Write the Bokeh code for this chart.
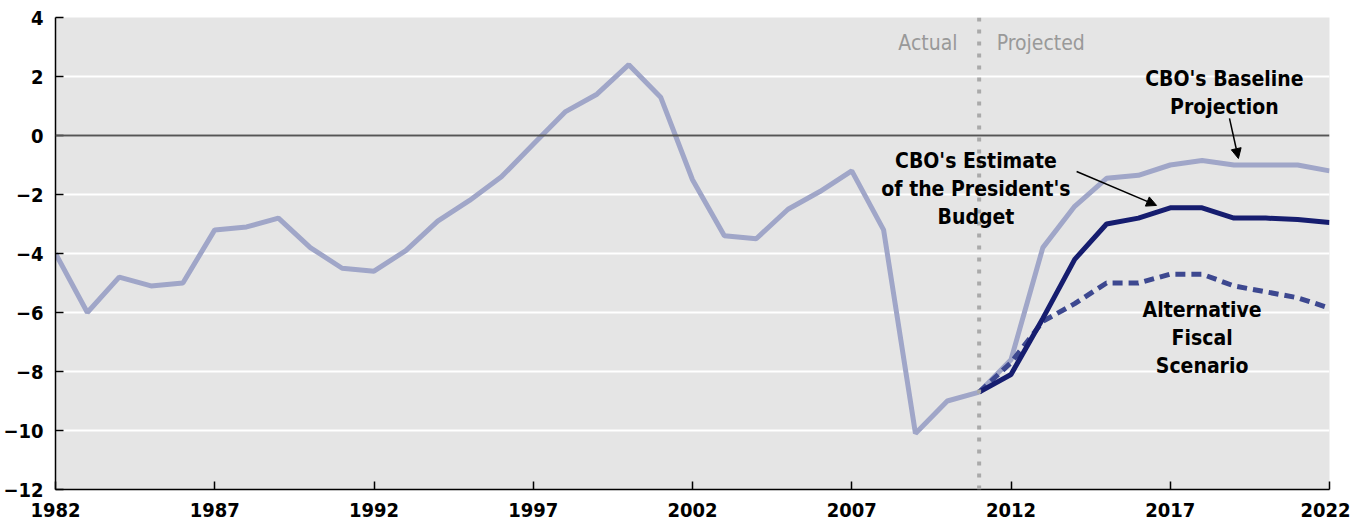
from bokeh.plotting import figure
from bokeh.models import FixedTicker, Span, Arrow, NormalHead, Label
from bokeh.embed import file_html
from bokeh.resources import INLINE

# Actual deficits (percent of GDP)
actual_years = list(range(1982, 2012))
actual_vals = [-4.0, -6.0, -4.8, -5.1, -5.0, -3.2, -3.1, -2.8, -3.8, -4.5,
               -4.6, -3.9, -2.9, -2.2, -1.4, -0.3, 0.8, 1.4, 2.4, 1.3,
               -1.5, -3.4, -3.5, -2.5, -1.9, -1.2, -3.2, -10.1, -9.0, -8.7]

proj_years = list(range(2011, 2023))
baseline_vals = [-8.7, -7.6, -3.8, -2.4, -1.45, -1.35, -1.0, -0.85, -1.0, -1.0, -1.0, -1.2]
president_vals = [-8.7, -8.1, -6.2, -4.2, -3.0, -2.8, -2.45, -2.45, -2.8, -2.8, -2.85, -2.95]
alternative_vals = [-8.7, -7.7, -6.3, -5.7, -5.0, -5.0, -4.7, -4.7, -5.1, -5.3, -5.5, -5.85]

x_ticks = [1982, 1987, 1992, 1997, 2002, 2007, 2012, 2017, 2022]
y_ticks = [-12, -10, -8, -6, -4, -2, 0, 2, 4]

FONT = "'DejaVu Sans Condensed', 'Liberation Sans Narrow', 'Liberation Sans', sans-serif"
LIGHT = "#a0a6c8"
DARK = "#161d6f"
MID = "#3d4890"

p = figure(width=1350, height=526, x_range=(1982, 2022), y_range=(-12, 4),
           output_backend="svg", toolbar_location=None,
           min_border_left=55, min_border_right=21, min_border_top=17, min_border_bottom=37)
p.background_fill_color = "#e5e5e5"
p.outline_line_color = None
p.border_fill_color = "white"

p.xgrid.grid_line_color = None
p.ygrid.grid_line_color = "white"
p.ygrid.grid_line_width = 2
p.ygrid.ticker = FixedTicker(ticks=y_ticks)

for ax, ticks in ((p.xaxis, x_ticks), (p.yaxis, y_ticks)):
    ax.ticker = FixedTicker(ticks=ticks)
    ax.major_tick_in = 8
    ax.major_tick_out = 0
    ax.minor_tick_line_color = None
    ax.axis_line_color = "black"
    ax.axis_line_width = 1.5
    ax.major_tick_line_color = "black"
    ax.major_tick_line_width = 1.5
    ax.major_label_text_font = FONT
    ax.major_label_text_font_style = "bold"
    ax.major_label_text_font_size = "20px"
    ax.major_label_text_color = "black"
p.yaxis.major_label_standoff = 12
p.xaxis.major_label_standoff = 13

p.add_layout(Span(location=0, dimension="width", line_color="#555555", line_width=2))
p.add_layout(Span(location=2011, dimension="height", line_color="#aaaaaa",
                  line_width=4, line_dash="4 8"))

p.line(actual_years, actual_vals, line_color=LIGHT, line_width=5)
p.line(proj_years, baseline_vals, line_color=LIGHT, line_width=5)
p.line(proj_years, alternative_vals, line_color=MID, line_width=5, line_dash="10 6")
p.line(proj_years, president_vals, line_color=DARK, line_width=5)

def lbl(x, y, text, align="center", color="black", style="bold"):
    p.add_layout(Label(x=x, y=y, text=text, text_align=align, text_baseline="middle",
                       text_font=FONT, text_font_style=style, text_font_size="21px",
                       text_color=color))

lbl(2010.32, 3.15, "Actual", align="right", color="#999999", style="normal")
lbl(2011.55, 3.15, "Projected", align="left", color="#999999", style="normal")

lbl(2018.7, 1.93, "CBO's Baseline")
lbl(2018.7, 0.98, "Projection")

lbl(2010.9, -0.85, "CBO's Estimate")
lbl(2010.9, -1.8, "of the President's")
lbl(2010.9, -2.75, "Budget")

lbl(2018.0, -5.93, "Alternative")
lbl(2018.0, -6.88, "Fiscal")
lbl(2018.0, -7.83, "Scenario")

p.add_layout(Arrow(x_start=2018.86, y_start=0.58, x_end=2019.14, y_end=-0.78,
                   line_color="black", line_width=1.5,
                   end=NormalHead(size=10, fill_color="black", line_color="black")))
p.add_layout(Arrow(x_start=2014.06, y_start=-1.22, x_end=2016.57, y_end=-2.37,
                   line_color="black", line_width=1.5,
                   end=NormalHead(size=10, fill_color="black", line_color="black")))

open("out.html", "w").write(file_html(p, INLINE))
